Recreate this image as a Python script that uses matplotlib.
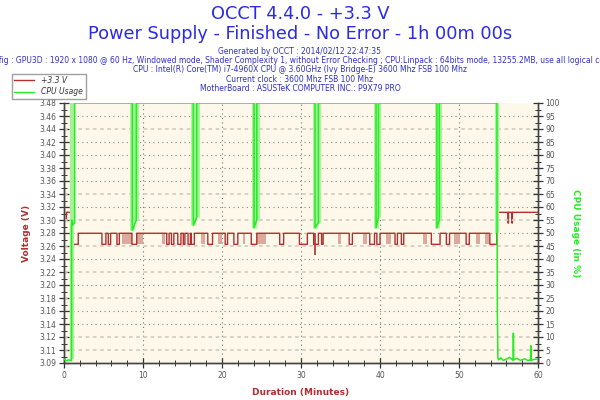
import numpy as np
import matplotlib
matplotlib.use("Agg")
import matplotlib.pyplot as plt
from matplotlib.lines import Line2D

# ---- data ----
title_lines = ["OCCT 4.4.0 - +3.3 V",
               "Power Supply - Finished - No Error - 1h 00m 00s"]
info_lines = [
    "Generated by OCCT : 2014/02/12 22:47:35",
    "Config : GPU3D : 1920 x 1080 @ 60 Hz, Windowed mode, Shader Complexity 1, without Error Checking ; "
    "CPU:Linpack : 64bits mode, 13255.2MB, use all logical cores",
    "CPU : Intel(R) Core(TM) i7-4960X CPU @ 3.60GHz (Ivy Bridge-E) 3600 Mhz FSB 100 Mhz",
    "Current clock : 3600 Mhz FSB 100 Mhz",
    "MotherBoard : ASUSTeK COMPUTER INC.: P9X79 PRO",
]

volt_ticks = np.linspace(3.09, 3.48, 21)
volt_ticklabels = ["3.09", "3.11", "3.12", "3.14", "3.16", "3.18", "3.20", "3.22",
                   "3.24", "3.26", "3.28", "3.30", "3.32", "3.34", "3.36", "3.38",
                   "3.40", "3.42", "3.44", "3.46", "3.48"]
cpu_ticks = list(range(0, 101, 5))
cpu_grid_light = [5, 10, 25, 35, 45, 55, 65, 90]   # where the right-axis grid shows
x_ticks = [0, 10, 20, 30, 40, 50, 60]

# voltage levels (V)
v_start = 3.316
v_high = 3.2846
v_low = 3.268
v_end = 3.316
# minutes where +3.3V sits at the low level
volt_low = [(1.05, 1.8), (4.8, 5.3), (5.6, 5.9), (6.7, 7.0), (8.6, 9.2),
            (13.0, 13.3), (13.6, 13.9), (14.4, 14.8), (15.1, 15.3), (15.7, 16.0),
            (16.1, 16.5), (18.2, 18.8), (20.4, 20.7), (21.5, 22.0), (23.7, 24.4),
            (27.3, 27.8), (29.8, 30.8), (31.6, 32.2), (32.6, 32.8), (36.1, 36.5),
            (38.7, 39.3), (39.6, 40.0), (41.9, 42.2), (42.7, 43.0), (46.5, 47.6),
            (48.4, 48.8), (50.9, 51.3), (53.9, 54.8)]
# faint (min/max) low bands
volt_faint = [(7.4, 8.6), (9.2, 10.0), (12.4, 12.8), (17.3, 17.8), (19.5, 20.0),
              (22.6, 22.9), (24.4, 25.6), (34.7, 35.1), (37.9, 38.3), (40.8, 41.4),
              (45.5, 45.9), (49.4, 50.1), (52.2, 52.7), (53.3, 53.8)]
volt_spike_t = [31.8]
volt_spike_v = [3.252]
volt_end_dips = [56.2, 56.7]
volt_end_dip_v = 3.300

# CPU usage (%)
cpu_start_t = [0.0, 0.3, 0.6, 0.95, 0.95, 1.0, 1.1, 1.35, 1.35]
cpu_start_v = [1.5, 0.8, 1.2, 1.0, 52, 55, 53, 54, 100]
cpu_dips = [(8.65, 9.15, 51, 55), (16.37, 16.8, 53, 56), (24.05, 24.4, 52, 55),
            (31.77, 32.2, 52, 54), (39.5, 39.8, 52, 56), (47.2, 47.5, 52, 55)]
cpu_tail_t = [54.8, 54.82, 54.85, 54.88, 54.92, 55.0, 55.3, 55.6, 56.0, 56.4,
              56.85, 56.88, 56.92, 57.3, 57.8, 58.3, 58.7, 59.05, 59.08, 59.12, 59.5, 60.0]
cpu_tail_v = [100, 55, 18, 13.5, 2, 1.2, 2.0, 1.0, 1.5, 2.2,
              1.0, 11.5, 1.2, 1.8, 1.0, 1.6, 1.0, 1.2, 6.7, 1.0, 1.4, 1.5]

RED = "#B03030"
RED_LIGHT = "#DDA99C"
GREEN = "#22EE22"
GREEN_LIGHT = "#A6F29A"
BLUE = "#2B2BE6"
BG = "#FEF8EA"


def step_series(t0, t1, base, intervals, low):
    t, v = [t0], [base]
    for a, b in intervals:
        t += [a, a, b, b]
        v += [base, low, low, base]
    t.append(t1)
    v.append(base)
    return t, v


fig = plt.figure(figsize=(6, 4), dpi=100)
fig.patch.set_facecolor("white")
ax = fig.add_axes([0.1067, 0.0925, 0.79, 0.65])
ax.set_facecolor(BG)
ax2 = ax.twinx()

# ---- grids ----
ax.set_xlim(0, 60)
ax.set_ylim(3.09, 3.48)
ax2.set_ylim(0, 100)
for i, y in enumerate(volt_ticks[1:-1], start=1):
    if cpu_ticks[i] in cpu_grid_light:
        ax2.axhline(cpu_ticks[i], color="#D2CEC2", lw=1.3, ls=(0, (2, 2)), zorder=0)
    else:
        ax.axhline(y, color="#888888", lw=0.8, ls=(0, (1, 3)), zorder=0)
for x in x_ticks[1:-1]:
    ax.axvline(x, color="#777777", lw=0.8, ls=(0, (1, 3)), zorder=0)

# ---- voltage ----
vt, vv = step_series(1.8, 54.8, v_high, volt_low[1:], v_low)
vt = [0.3, 0.3, 0.35, 0.35, 1.05, 1.05, 1.8] + vt
vv = [3.305, v_start, v_start, v_start, v_start, v_low, v_low] + vv
vt += [54.8, 54.85, 54.85, 54.9]
vv += [v_low, 3.300, 3.300, v_end]
for d in volt_end_dips:
    vt += [d, d, d + 0.06, d + 0.06]
    vv += [v_end, volt_end_dip_v, volt_end_dip_v, v_end]
vt.append(60)
vv.append(v_end)
for a, b in volt_faint:
    ax.fill_between([a, b], v_low, v_high, color=RED_LIGHT, lw=0, zorder=1)
ax.plot(vt, vv, color=RED, lw=1.0, zorder=3)
ax.vlines(volt_spike_t, volt_spike_v, v_high, color=RED, lw=1.2, zorder=3)

# ---- CPU usage ----
ct, cv = list(cpu_start_t), list(cpu_start_v)
for a, b, lo1, lo2 in cpu_dips:
    ct += [a, a, b, b]
    cv += [100, lo1, lo2, 100]
ct += cpu_tail_t
cv += cpu_tail_v
for a, b, lo1, lo2 in cpu_dips:
    ax2.vlines([a, b], [lo1, lo2], 100, color=GREEN_LIGHT, lw=3.5, zorder=2)
ax2.vlines([cpu_start_t[4], cpu_tail_t[0]], [cpu_start_v[0], 50], 100,
           color=GREEN_LIGHT, lw=3.0, zorder=2)
ax2.plot(ct, cv, color=GREEN, lw=1.1, zorder=3)

# ---- axes styling ----
ax.set_xticks(x_ticks)
ax.set_xticks(np.arange(0, 61, 2), minor=True)
ax.set_yticks(volt_ticks)
ax.set_yticklabels(volt_ticklabels)
ax.set_yticks(np.linspace(3.09, 3.48, 41), minor=True)
ax2.set_yticks(cpu_ticks)
ax2.set_yticks(np.arange(0, 101, 2.5), minor=True)
for a in (ax, ax2):
    a.tick_params(which="major", direction="inout", length=7, width=0.9,
                  color="#333333", labelsize=5.5, labelcolor="#555555", pad=2)
    a.tick_params(which="minor", direction="inout", length=4, width=0.7, color="#333333")
    for s in a.spines.values():
        s.set_color("#444444")
        s.set_linewidth(1.0)
ax.spines["top"].set_visible(False)
ax2.spines["top"].set_visible(False)

ax.set_ylabel("Voltage (V)", color=RED, fontsize=6.5, fontweight="bold", labelpad=6)
ax2.set_ylabel("CPU Usage (in %)", color=GREEN, fontsize=6.5, fontweight="bold",
               rotation=270, labelpad=14)
ax.set_xlabel("Duration (Minutes)", color=RED, fontsize=6.5, fontweight="bold", labelpad=6)

# ---- titles ----
fig.text(0.5, 0.965, title_lines[0], ha="center", va="center", color=BLUE, fontsize=12.8)
fig.text(0.5, 0.915, title_lines[1], ha="center", va="center", color=BLUE, fontsize=12.8)
for i, line in enumerate(info_lines):
    fig.text(0.5, 0.872 - i * 0.0235, line, ha="center", va="center",
             color="#3030C8", fontsize=5.5)

# ---- legend ----
handles = [Line2D([], [], color=RED, lw=1), Line2D([], [], color=GREEN, lw=1)]
leg = fig.legend(handles, ["+3.3 V", "CPU Usage"], loc="upper left",
                 bbox_to_anchor=(0.013, 0.825), fontsize=5.5, frameon=True,
                 fancybox=False, edgecolor="#888888", handlelength=2.6,
                 borderpad=0.3, labelspacing=0.3, handletextpad=1.0)
for t in leg.get_texts():
    t.set_fontstyle("italic")
    t.set_color("#333333")

fig.savefig("out.png", dpi=100)
